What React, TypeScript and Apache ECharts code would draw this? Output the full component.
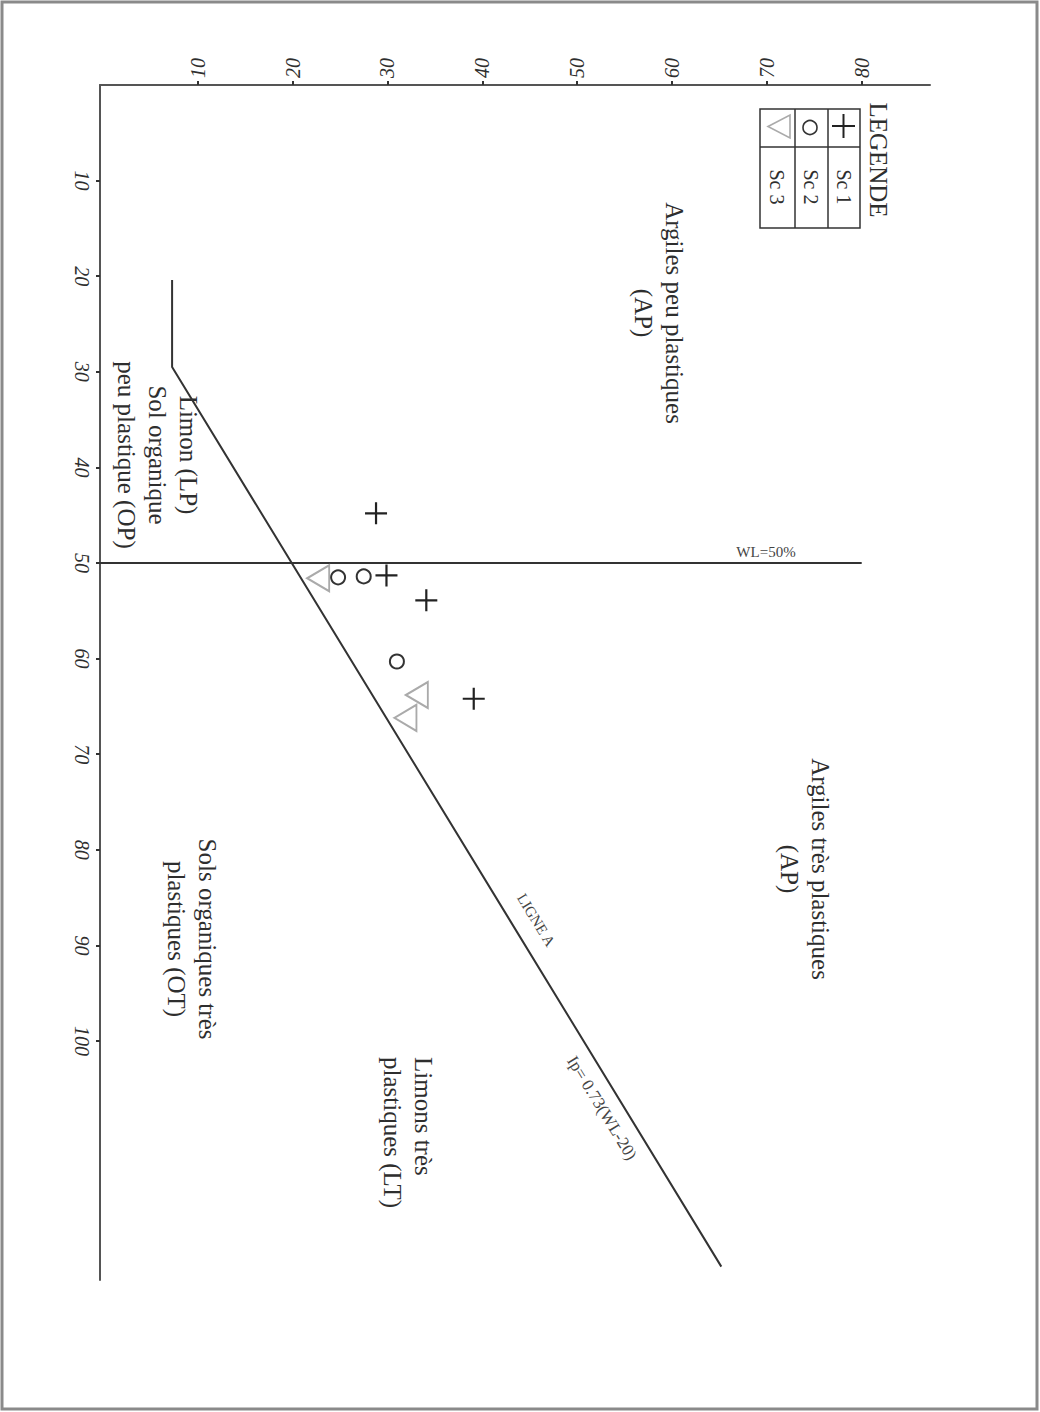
import React, { useEffect, useRef } from "react";
import * as echarts from "echarts";

// Axis ticks
const ipTicks = [10, 20, 30, 40, 50, 60, 70, 80];
const wlTicks = [10, 20, 30, 40, 50, 60, 70, 80, 90, 100];

// Series names
const seriesNames = ["Sc 1", "Sc 2", "Sc 3"];

// Points as [Ip, WL]
const sc1 = [
  [28.8, 44.8],
  [29.9, 51.3],
  [34.1, 53.9],
  [39.1, 64.2],
];
const sc2 = [
  [24.8, 51.5],
  [27.5, 51.4],
  [31.0, 60.3],
];
const sc3 = [
  [22.7, 51.6],
  [33.1, 63.8],
  [31.9, 66.2],
];

// A-line (as drawn) and WL = 50 % boundary, [Ip, WL]
const ligneA = [
  [7.3, 20.4],
  [7.3, 29.5],
  [65.2, 123.6],
];
const wl50Line = [
  [-0.3, 50],
  [80, 50],
];

const FONT = "'Liberation Serif', 'Times New Roman', serif";
const TXT = "#2e2e2e";
const ROT = -Math.PI / 2;

function rotText(x: number, y: number, text: string, fontSize: number, align = "center", extra: any = {}) {
  return {
    type: "text",
    x,
    y,
    rotation: ROT,
    style: {
      text,
      fontFamily: FONT,
      fontSize,
      lineHeight: Math.round(fontSize * 1.22),
      fill: TXT,
      align,
      verticalAlign: "middle",
      ...extra,
    },
  };
}

export default function App() {
  const ref = useRef<HTMLDivElement>(null);

  useEffect(() => {
    if (!ref.current) return;
    const chart = echarts.init(ref.current, null, { renderer: "svg" });
    const lineSlopeAngle = -Math.atan2(900, 550);

    const option: any = {
      animation: false,
      backgroundColor: "#ffffff",
      grid: { left: 100, top: 85, width: 830, height: 1195 },
      xAxis: {
        type: "value",
        position: "top",
        min: -0.3,
        max: 87.2,
        axisLine: { show: true, onZero: false, lineStyle: { color: "#555", width: 2 } },
        axisTick: { show: true, customValues: ipTicks, length: 4, lineStyle: { color: "#333", width: 2 } },
        axisLabel: {
          customValues: ipTicks,
          rotate: -90,
          margin: 7,
          fontFamily: FONT,
          fontStyle: "italic",
          fontSize: 20,
          color: TXT,
        },
        splitLine: { show: false },
      },
      yAxis: {
        type: "value",
        position: "left",
        inverse: true,
        min: 0,
        max: 125,
        axisLine: { show: true, onZero: false, lineStyle: { color: "#555", width: 2 } },
        axisTick: { show: true, customValues: wlTicks, length: 4, lineStyle: { color: "#333", width: 2 } },
        axisLabel: {
          customValues: wlTicks,
          rotate: -90,
          margin: 8,
          fontFamily: FONT,
          fontStyle: "italic",
          fontSize: 20,
          color: TXT,
        },
        splitLine: { show: false },
      },
      series: [
        {
          name: "Ligne A",
          type: "line",
          data: ligneA,
          symbol: "none",
          lineStyle: { color: "#333", width: 2 },
          z: 2,
        },
        {
          name: "WL=50%",
          type: "line",
          data: wl50Line,
          symbol: "none",
          lineStyle: { color: "#333", width: 2.2 },
          z: 2,
        },
        {
          name: seriesNames[0],
          type: "scatter",
          data: sc1,
          symbol: "path://M9,0H11V20H9Z M0,9H20V11H0Z",
          symbolSize: 22,
          itemStyle: { color: "#222", opacity: 1 },
          z: 5,
        },
        {
          name: seriesNames[1],
          type: "scatter",
          data: sc2,
          symbol: "emptyCircle",
          symbolSize: 14,
          itemStyle: { color: "#333", borderWidth: 1.6, opacity: 1 },
          z: 5,
        },
        {
          name: seriesNames[2],
          type: "scatter",
          data: sc3,
          symbol: "emptyTriangle",
          symbolRotate: 90,
          symbolSize: [26, 22],
          itemStyle: { color: "#aaa", borderWidth: 1.6, opacity: 1 },
          z: 4,
        },
      ],
      graphic: [
        // page frame
        {
          type: "rect",
          shape: { x: 2, y: 2, width: 1035, height: 1407 },
          style: { fill: "none", stroke: "#8a8a8a", lineWidth: 3 },
          silent: true,
        },
        // zone labels
        rotText(659, 313, "Argiles peu plastiques\n(AP)", 25),
        rotText(805, 869, "Argiles très plastiques\n(AP)", 25),
        rotText(157, 455, "Limon (LP)\nSol organique\npeu plastique (OP)", 25),
        rotText(192, 939, "Sols organiques très\nplastiques (OT)", 25),
        rotText(408, 1057, "Limons très\nplastiques (LT)", 25, "left"),
        // line annotations
        {
          type: "text",
          x: 536,
          y: 920,
          rotation: lineSlopeAngle,
          style: {
            text: "LIGNE A",
            fontFamily: FONT,
            fontSize: 15,
            fill: "#444",
            align: "center",
            verticalAlign: "middle",
          },
        },
        {
          type: "text",
          x: 602,
          y: 1108,
          rotation: lineSlopeAngle,
          style: {
            text: "Ip= 0.73(WL-20)",
            fontFamily: FONT,
            fontSize: 17,
            fill: "#444",
            align: "center",
            verticalAlign: "middle",
          },
        },
        {
          type: "text",
          x: 766,
          y: 552,
          style: {
            text: "WL=50%",
            fontFamily: FONT,
            fontSize: 15,
            fill: "#444",
            align: "center",
            verticalAlign: "middle",
          },
        },
        // legend
        rotText(878, 160, "LEGENDE", 25),
        {
          type: "rect",
          shape: { x: 760, y: 109, width: 100, height: 119 },
          style: { fill: "none", stroke: "#333", lineWidth: 1.5 },
        },
        { type: "line", shape: { x1: 795, y1: 109, x2: 795, y2: 228 }, style: { stroke: "#333", lineWidth: 1.5 } },
        { type: "line", shape: { x1: 828, y1: 109, x2: 828, y2: 228 }, style: { stroke: "#333", lineWidth: 1.5 } },
        { type: "line", shape: { x1: 760, y1: 147, x2: 860, y2: 147 }, style: { stroke: "#333", lineWidth: 1.5 } },
        { type: "line", shape: { x1: 832, y1: 126, x2: 855, y2: 126 }, style: { stroke: "#222", lineWidth: 2 } },
        { type: "line", shape: { x1: 843.5, y1: 114, x2: 843.5, y2: 138 }, style: { stroke: "#222", lineWidth: 2 } },
        { type: "circle", shape: { cx: 810, cy: 127.5, r: 7 }, style: { fill: "#fff", stroke: "#333", lineWidth: 1.6 } },
        {
          type: "polygon",
          shape: { points: [[768, 126.5], [790, 115], [790, 138]] },
          style: { fill: "#fff", stroke: "#aaa", lineWidth: 1.6 },
        },
        rotText(844, 187, seriesNames[0], 20),
        rotText(811, 187, seriesNames[1], 20),
        rotText(777, 187, seriesNames[2], 20),
      ],
    };

    chart.setOption(option);
    return () => chart.dispose();
  }, []);

  return (
    <div
      ref={ref}
      style={{ position: "absolute", left: 0, top: 0, width: 1040, height: 1412 }}
    />
  );
}
